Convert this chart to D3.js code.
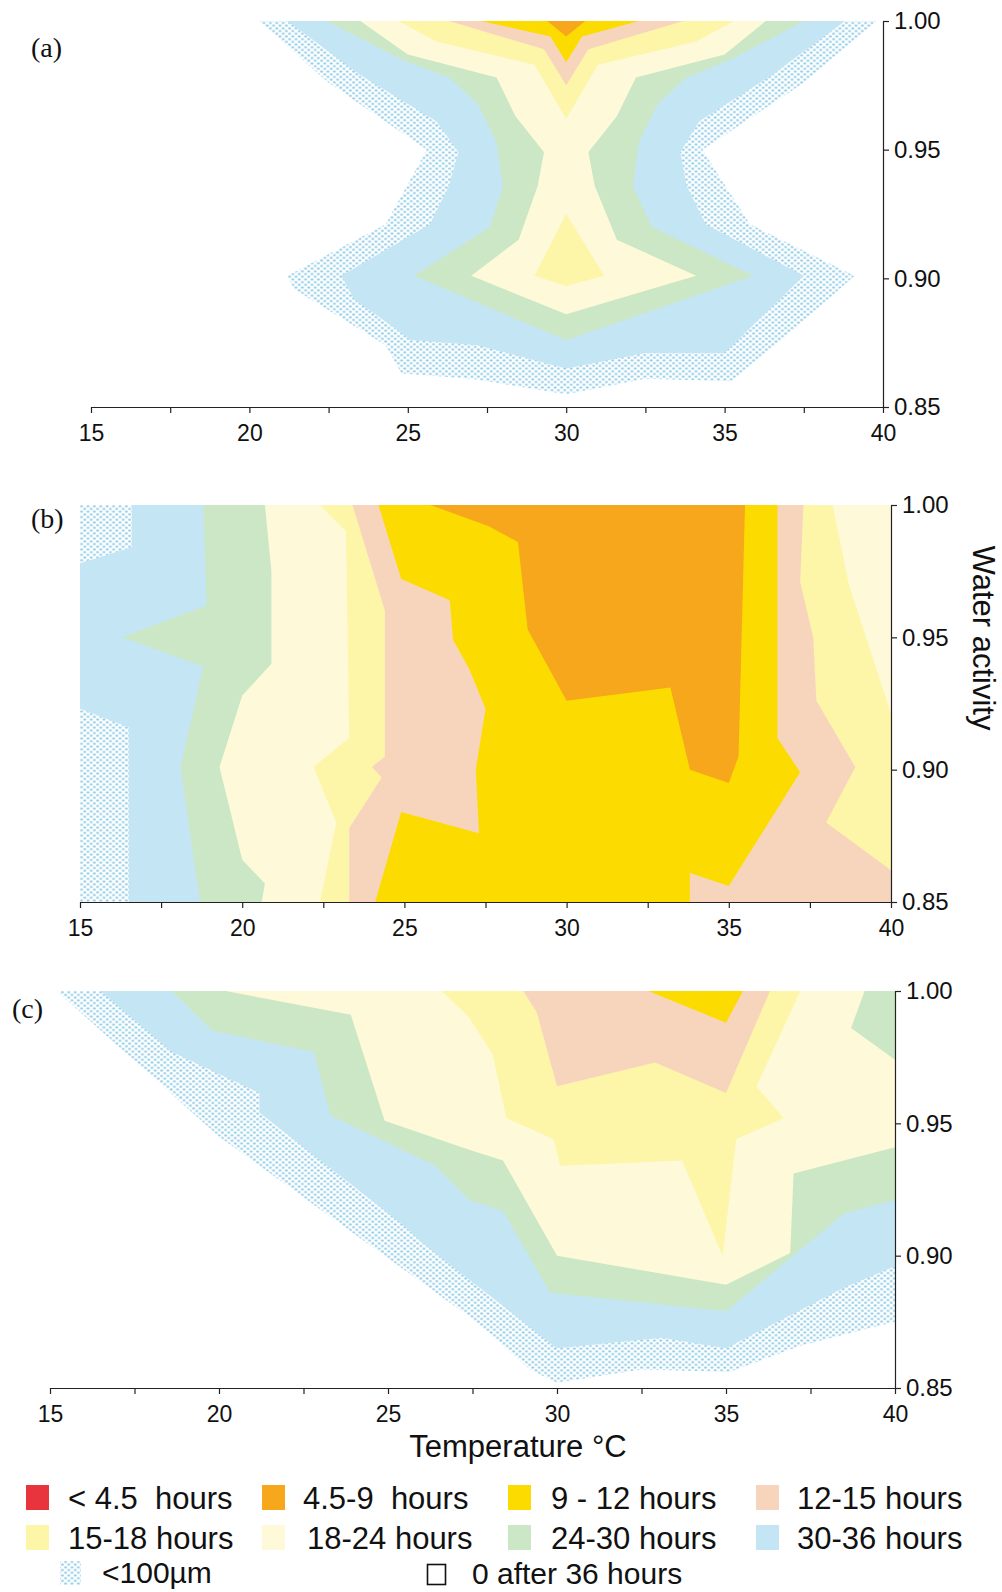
<!DOCTYPE html>
<html>
<head>
<meta charset="utf-8">
<script src="https://cdn.jsdelivr.net/npm/d3@7"></script>
<style>
  body { margin: 0; background: #fff; }
  text { font-family: "Liberation Sans", Arial, sans-serif; fill: #111; }
</style>
</head>
<body>
<script>
// contour levels, outermost first (germination time classes)
const levelNames = ["<100µm", "30-36 hours", "24-30 hours", "18-24 hours", "15-18 hours", "12-15 hours", "9 - 12 hours", "4.5-9  hours", "< 4.5  hours"];
const levelColors = ["url(#dots)", "#c4e5f4", "#cbe7c6", "#fef9d8", "#fdf5a8", "#f7d5bc", "#fcdc00", "#f6a71c", "#e8343c"];

const xTicks = [15, 17.5, 20, 22.5, 25, 27.5, 30, 32.5, 35, 37.5, 40];
const yTicks = [0.85, 0.90, 0.95, 1.00];

// ---- panel (a): rings of [temperature, water activity]
const aStipple = [[20.3,1.0],[22.5,0.976],[25.6,0.950],[24.3,0.921],[21.2,0.901],[21.4,0.896],[24.3,0.874],[24.8,0.863],[27.0,0.861],[30.0,0.855],[32.5,0.861],[35.2,0.860],[37.2,0.880],[39.1,0.901],[35.8,0.921],[34.3,0.950],[37.5,0.976],[39.8,1.0]];
const aBlue = [[21.2,1.0],[23.5,0.979],[25.9,0.961],[26.6,0.949],[26.3,0.936],[25.7,0.921],[22.9,0.901],[23.3,0.892],[25.1,0.876],[27.2,0.874],[30.0,0.865],[32.5,0.871],[35.0,0.871],[36.5,0.889],[37.5,0.901],[34.4,0.921],[33.8,0.936],[33.6,0.949],[34.2,0.961],[36.5,0.979],[38.8,1.0]];
const aGreen = [[22.45,1.0],[24.8,0.985],[26.3,0.978],[27.2,0.968],[27.8,0.953],[28.0,0.936],[27.6,0.920],[25.2,0.901],[30.0,0.876],[35.9,0.901],[32.7,0.920],[32.1,0.936],[32.3,0.953],[32.9,0.968],[33.8,0.978],[35.2,0.985],[37.5,1.0]];
const aPale = [[23.5,1.0],[25.0,0.987],[27.8,0.978],[28.4,0.963],[29.3,0.949],[29.1,0.936],[28.5,0.915],[27.0,0.901],[30.0,0.886],[34.1,0.901],[31.6,0.915],[30.9,0.936],[30.7,0.949],[31.6,0.963],[32.2,0.978],[35.0,0.987],[36.3,1.0]];
const aLight1 = [[24.7,1.0],[25.9,0.992],[29.0,0.983],[30.0,0.962],[31.0,0.983],[34.1,0.992],[35.3,1.0]];
const aLight2 = [[30.0,0.925],[29.0,0.901],[30.0,0.897],[31.2,0.901]];
const aPeach = [[26.3,1.0],[29.3,0.989],[30.0,0.975],[30.7,0.989],[33.7,1.0]];
const aYellow = [[27.3,1.0],[29.5,0.994],[30.0,0.984],[30.5,0.994],[32.3,1.0]];
const aOrange = [[29.4,1.0],[30.0,0.994],[30.6,1.0]];

// ---- panel (b)
const bStipple = [[15,1.0],[40,1.0],[40,0.85],[15,0.85]];
const bBlue = [[15,0.978],[16.6,0.984],[16.6,1.0],[40,1.0],[40,0.85],[16.5,0.85],[16.5,0.916],[15,0.923]];
const bGreen = [[18.8,1.0],[40,1.0],[40,0.85],[18.7,0.85],[18.1,0.901],[18.8,0.939],[16.3,0.950],[18.9,0.962]];
const bPale = [[20.7,1.0],[40,1.0],[40,0.85],[20.6,0.85],[20.7,0.857],[20.0,0.866],[19.3,0.901],[20.0,0.928],[20.9,0.940],[20.9,0.975]];
const bLight = [[22.4,1.0],[38.2,1.0],[38.7,0.97],[40,0.921],[40,0.85],[22.4,0.85],[22.9,0.88],[22.2,0.901],[23.3,0.912],[23.2,0.99]];
const bPeach = [[23.4,1.0],[37.3,1.0],[37.2,0.971],[37.6,0.950],[37.7,0.926],[38.9,0.901],[38.0,0.880],[40,0.862],[40,0.85],[23.3,0.85],[23.3,0.878],[24.3,0.897],[24.0,0.901],[24.4,0.905],[24.4,0.960]];
const bYellow = [[24.2,1.0],[36.5,1.0],[36.5,0.912],[37.2,0.899],[35.0,0.856],[33.8,0.861],[33.8,0.85],[24.1,0.85],[24.9,0.884],[27.3,0.876],[27.2,0.900],[27.5,0.923],[27.0,0.938],[26.5,0.949],[26.4,0.964],[24.9,0.972]];
const bOrange = [[25.8,1.0],[35.5,1.0],[35.3,0.905],[35.0,0.895],[33.8,0.900],[33.2,0.931],[30.0,0.926],[28.8,0.953],[28.5,0.986],[27.6,0.992]];

// ---- panel (c)
const cStipple = [[15.2,1.0],[40,1.0],[40,0.875],[37.2,0.866],[35.1,0.856],[32.5,0.857],[30.0,0.852],[29.2,0.857],[27.4,0.877],[20.0,0.945]];
const cBlue = [[16.5,1.0],[40,1.0],[40,0.896],[38.5,0.888],[35.0,0.865],[33.1,0.869],[30.0,0.865],[27.4,0.891],[26.0,0.905],[25.5,0.911],[21.2,0.954],[21.2,0.9615],[18.6,0.977]];
const cGreen = [[18.6,1.0],[40,1.0],[40,0.921],[38.5,0.916],[35.0,0.879],[29.8,0.886],[28.4,0.917],[27.4,0.921],[26.4,0.934],[23.3,0.953],[22.8,0.977],[19.8,0.985]];
const cPale = [[20.2,1.0],[39.1,1.0],[38.7,0.986],[40,0.974],[40,0.941],[37.0,0.931],[36.9,0.901],[35.0,0.889],[30.0,0.900],[28.4,0.936],[27.4,0.940],[24.9,0.951],[23.9,0.991]];
const cLight = [[26.6,1.0],[27.4,0.99],[28.1,0.976],[28.5,0.952],[29.9,0.944],[30.1,0.934],[33.7,0.936],[34.9,0.900],[35.3,0.944],[36.7,0.952],[35.9,0.964],[37.2,1.0]];
const cPeach = [[29.0,1.0],[36.3,1.0],[35.0,0.9615],[32.9,0.973],[30.0,0.964],[29.4,0.992]];
const cYellow = [[32.7,1.0],[35.5,1.0],[35.0,0.988]];

// rings per level index (index into levelNames)
const panelA = [[0,[aStipple]],[1,[aBlue]],[2,[aGreen]],[3,[aPale]],[4,[aLight1,aLight2]],[5,[aPeach]],[6,[aYellow]],[7,[aOrange]]];
const panelB = [[0,[bStipple]],[1,[bBlue]],[2,[bGreen]],[3,[bPale]],[4,[bLight]],[5,[bPeach]],[6,[bYellow]],[7,[bOrange]]];
const panelC = [[0,[cStipple]],[1,[cBlue]],[2,[cGreen]],[3,[cPale]],[4,[cLight]],[5,[cPeach]],[6,[cYellow]]];

const panels = [
  {label: "(a)", data: panelA, x0: 91, x1: 883, yTop: 21, yBot: 407, lx: 31, ly: 57},
  {label: "(b)", data: panelB, x0: 80, x1: 891, yTop: 505, yBot: 902, lx: 31, ly: 528},
  {label: "(c)", data: panelC, x0: 50, x1: 895, yTop: 991, yBot: 1388, lx: 12, ly: 1018}
];

const svg = d3.select("body").append("svg").attr("width", 1002).attr("height", 1592);

const defs = svg.append("defs");
const pat = defs.append("pattern").attr("id", "dots")
  .attr("width", 6.4).attr("height", 5.4).attr("patternUnits", "userSpaceOnUse");
pat.append("rect").attr("width", 6.4).attr("height", 5.4).attr("fill", "#fff");
pat.append("ellipse").attr("cx", 1.6).attr("cy", 1.35).attr("rx", 1.5).attr("ry", 1.15).attr("fill", "#98d0ea");
pat.append("ellipse").attr("cx", 4.8).attr("cy", 4.05).attr("rx", 1.5).attr("ry", 1.15).attr("fill", "#98d0ea");

panels.forEach((p, i) => {
  const x = d3.scaleLinear().domain([15, 40]).range([p.x0, p.x1]);
  const y = d3.scaleLinear().domain([0.85, 1.0]).range([p.yBot, p.yTop]);
  const g = svg.append("g");

  defs.append("clipPath").attr("id", "clip" + i)
    .append("rect").attr("x", p.x0).attr("y", p.yTop)
    .attr("width", p.x1 - p.x0).attr("height", p.yBot - p.yTop);

  const line = d3.line().x(d => x(d[0])).y(d => y(d[1]));
  const area = g.append("g").attr("clip-path", `url(#clip${i})`);
  p.data.forEach(([lvl, rings]) => {
    rings.forEach(r => {
      area.append("path")
        .attr("d", line(r) + "Z")
        .attr("fill", levelColors[lvl])
        .attr("stroke", "none");
    });
  });

  // x axis
  const xAxis = d3.axisBottom(x).tickValues(xTicks)
    .tickFormat(d => d % 5 === 0 ? d : "")
    .tickSize(6).tickSizeOuter(0).tickPadding(12);
  const gx = g.append("g").attr("transform", `translate(0,${p.yBot})`).call(xAxis);
  gx.selectAll("text").style("font-size", "23px").attr("fill", "#111");

  // y axis on the right
  const yAxis = d3.axisRight(y).tickValues(yTicks)
    .tickFormat(d3.format(".2f"))
    .tickSize(6).tickSizeOuter(0).tickPadding(5);
  const gy = g.append("g").attr("transform", `translate(${p.x1},0)`).call(yAxis);
  gy.selectAll("text").style("font-size", "24px").attr("fill", "#111");

  [gx, gy].forEach(a => {
    a.select(".domain").attr("stroke", "#222").attr("stroke-width", 1.2);
    a.selectAll(".tick line").attr("stroke", "#222").attr("stroke-width", 1.2);
  });

  g.append("text").attr("x", p.lx).attr("y", p.ly)
    .style("font-family", "'Liberation Serif', 'Times New Roman', serif")
    .style("font-size", "28px").text(p.label);
});

// axis titles
svg.append("text").attr("transform", "translate(973,638) rotate(90)")
  .attr("text-anchor", "middle").style("font-size", "31px").text("Water activity");
svg.append("text").attr("x", 518).attr("y", 1457)
  .attr("text-anchor", "middle").style("font-size", "31px").text("Temperature °C");

// legend
const legendCols = [26, 262, 508, 756];
const legendText = [68, 303, 551, 797];
const legendRows = [1485, 1525];
const legendItems = [8, 7, 6, 5, 4, 3, 2, 1];
const lg = svg.append("g");
legendItems.forEach((lvl, k) => {
  const col = k % 4, row = Math.floor(k / 4);
  lg.append("rect").attr("x", legendCols[col]).attr("y", legendRows[row])
    .attr("width", 23).attr("height", 25).attr("fill", levelColors[lvl]);
  lg.append("text").attr("x", legendText[col] + (row === 1 && col === 1 ? 4 : 0))
    .attr("y", legendRows[row] + 24).style("font-size", "31px")
    .style("white-space", "pre").attr("xml:space", "preserve").text(levelNames[lvl]);
});
lg.append("rect").attr("x", 60).attr("y", 1561).attr("width", 21).attr("height", 24).attr("fill", levelColors[0]);
lg.append("text").attr("x", 102).attr("y", 1583).style("font-size", "30px").text(levelNames[0]);
lg.append("rect").attr("x", 427.5).attr("y", 1564.5).attr("width", 18).attr("height", 20)
  .attr("fill", "none").attr("stroke", "#111").attr("stroke-width", 1.6);
lg.append("text").attr("x", 472).attr("y", 1584).style("font-size", "30px").text("0 after 36 hours");
</script>
</body>
</html>
